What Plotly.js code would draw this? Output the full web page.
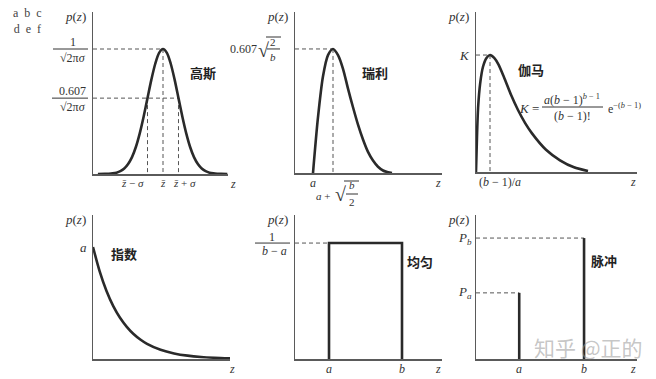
<!DOCTYPE html>
<html><head><meta charset="utf-8">
<script src="https://cdn.plot.ly/plotly-3.0.1.min.js"></script>
<style>html,body{margin:0;padding:0;background:#fff}#chart{width:656px;height:379px}</style>
</head><body><div id="chart"></div>
<script>
// ---------- data (normalised units) ----------
// (a) Gaussian: z in units of sigma about the mean, p relative to the peak
const gaussZ = [-4.2,-3.75,-3.5,-3.25,-3,-2.75,-2.5,-2.25,-2,-1.75,-1.5,-1.25,-1,-0.75,-0.5,-0.25,0,0.25,0.5,0.75,1,1.25,1.5,1.75,2,2.25,2.5,2.75,3,3.25,3.5,3.75,4.15];
const gaussP = [0,0.001,0.002,0.005,0.011,0.023,0.044,0.080,0.135,0.216,0.325,0.458,0.607,0.755,0.882,0.969,1,0.969,0.882,0.755,0.607,0.458,0.325,0.216,0.135,0.080,0.044,0.023,0.011,0.005,0.002,0.001,0];
const gaussMean = 0, gaussSigma = 1, gaussLevel = 0.607;
// (b) Rayleigh
const rayZ = [0.9,1.15,1.4,1.65,1.9,2.15,2.4,2.65,2.9,3.15,3.4,3.65,3.9,4.15,4.4,4.65,4.85];
const rayP = [0,0.45,0.78,0.95,1,0.95,0.84,0.68,0.53,0.39,0.27,0.17,0.10,0.05,0.02,0.006,0];
const rayA = 0.9, rayPeak = 1.9;
// (c) Gamma (Erlang)
const gamZ = [0,0.07,0.15,0.3,0.5,0.75,1,1.3,1.6,2,2.5,3,3.5,4,5,6,7,8];
const gamP = [0,0.3,0.55,0.76,0.9,0.975,1,0.975,0.92,0.81,0.66,0.53,0.42,0.33,0.19,0.10,0.04,0.008];
const gamPeak = 1;
// (d) Exponential
const expZ = [0,0.25,0.5,0.75,1,1.25,1.5,1.75,2,2.5,3,3.5,4,4.5,5.07];
const expP = [1,0.78,0.607,0.472,0.368,0.287,0.223,0.174,0.135,0.082,0.05,0.03,0.018,0.011,0.006];
// (e) Uniform
const uniA = 1, uniB = 3, uniH = 0.5;
// (f) Impulse (salt & pepper)
const impZ = [2, 5];          // a, b
const impP = [0.35, 0.64];    // Pa, Pb

// ---------- layout geometry ----------
const W = 656, H = 379;
const PX = x => x / W, PY = y => 1 - y / H;
const boxes = {'':[93,228,12,174],'2':[295,442,12,173],'3':[476,637,12,172],
               '4':[93,230,215,359],'5':[295,442,215,359],'6':[476,637,215,359]};
const ranges = {'':[[-4.516,4.194],[0,1.296]],'2':[[0,7.35],[0,1.298]],'3':[[0,11.5],[0,1.368]],
                '4':[[0,5.07],[0,1.286]],'5':[[0.068,4.096],[0,0.621]],'6':[[0,7.45],[0,0.762]]};
const keys = ['', '2', '3', '4', '5', '6'];
const xid = k => 'x' + k, yid = k => 'y' + k;

const SERIF = 'Liberation Serif, Times New Roman, serif';
const CJK = 'Noto Sans CJK SC, sans-serif';
const INK = '#2a2a2a', TXT = '#333';

const layout = {width: W, height: H, margin: {l:0, r:0, t:0, b:0},
  paper_bgcolor: '#fff', plot_bgcolor: '#fff', showlegend: false,
  annotations: [], shapes: []};

keys.forEach(k => {
  const b = boxes[k], r = ranges[k];
  const base = {showline:true, linecolor:'#5a5a5a', linewidth:1.5, showgrid:false,
    zeroline:false, showticklabels:false, ticks:'', fixedrange:true};
  layout['xaxis' + k] = Object.assign({}, base, {domain:[PX(b[0]), PX(b[1])], range:r[0], anchor:yid(k)});
  layout['yaxis' + k] = Object.assign({}, base, {domain:[PY(b[3]), PY(b[2])], range:r[1], anchor:xid(k)});
});

const traces = [];
function curve(k, x, y, shape) {
  traces.push({x, y, xaxis:xid(k), yaxis:yid(k), mode:'lines', hoverinfo:'skip',
    line:{color:INK, width:2.6, shape: shape || 'spline', smoothing:0.8}});
}
function dashed(k, x, y) {
  traces.push({x, y, xaxis:xid(k), yaxis:yid(k), mode:'lines', hoverinfo:'skip',
    line:{color:'#555', width:1, dash:'4px,3px'}});
}
const xmin = k => ranges[k][0][0];

// (a)
dashed('', [xmin(''), gaussMean, null, xmin(''), gaussMean + gaussSigma, null,
            gaussMean - gaussSigma, gaussMean - gaussSigma, null, gaussMean, gaussMean, null,
            gaussMean + gaussSigma, gaussMean + gaussSigma],
           [1, 1, null, gaussLevel, gaussLevel, null, gaussLevel, 0, null, 1, 0, null, gaussLevel, 0]);
curve('', gaussZ, gaussP);
// (b)
dashed('2', [xmin('2'), rayPeak, null, rayPeak, rayPeak], [1, 1, null, 1, 0]);
curve('2', rayZ, rayP);
// (c)
dashed('3', [xmin('3'), gamPeak, null, gamPeak, gamPeak], [1, 1, null, 1, 0]);
curve('3', gamZ, gamP);
// (d)
curve('4', expZ, expP);
// (e)
dashed('5', [xmin('5'), uniA], [uniH, uniH]);
curve('5', [uniA, uniA, uniB, uniB], [0, uniH, uniH, 0], 'linear');
// (f)
dashed('6', [xmin('6'), impZ[0], null, xmin('6'), impZ[1]], [impP[0], impP[0], null, impP[1], impP[1]]);
curve('6', [impZ[0], impZ[0], null, impZ[1], impZ[1]], [0, impP[0], null, 0, impP[1]], 'linear');

// ---------- text ----------
function ann(o) {
  layout.annotations.push(Object.assign({showarrow:false, font:{family:SERIF, size:12, color:TXT}}, o));
}
function xtick(k, x, text, anchor, shift, size) {
  ann({text, xref:xid(k), x, yref:yid(k) + ' domain', y:0, xanchor:anchor || 'center',
       yanchor:'top', xshift:shift || 0, yshift:-1, font:{family:SERIF, size:size || 12, color:TXT}});
}
function ytick(k, y, text, shift, size, yshift, anchor) {
  ann({text, xref:xid(k) + ' domain', x:0, yref:yid(k), y, xanchor:anchor || 'right', yanchor:'middle',
       xshift:shift || -4, yshift:yshift || 0, font:{family:SERIF, size:size || 12, color:TXT}});
}
function bar(k, y, pxL, pxR) {
  const b = boxes[k], w = b[1] - b[0];
  layout.shapes.push({type:'line', xref:xid(k) + ' domain', yref:yid(k),
    x0:(pxL - b[0]) / w, x1:(pxR - b[0]) / w, y0:y, y1:y, line:{color:TXT, width:1}});
}
function pline(x0, y0, x1, y1) {
  layout.shapes.push({type:'line', xref:'paper', yref:'paper', x0:PX(x0), x1:PX(x1), y0:PY(y0), y1:PY(y1),
    line:{color:TXT, width:1}});
}
function ptext(text, x, y, size, family, anchor, color) {
  ann({text, xref:'paper', yref:'paper', x:PX(x), y:PY(y), xanchor:anchor || 'center', yanchor:'middle',
       font:{family:family || SERIF, size:size || 12, color:color || TXT}});
}

// p(z) and z labels
const zShift = {'':5, '2':-4, '3':-4, '4':2, '5':-4, '6':-4};
keys.forEach(k => {
  ann({text:'<i>p</i>(<i>z</i>)', xref:xid(k) + ' domain', x:0, yref:yid(k) + ' domain', y:1,
       xanchor:'right', yanchor:'middle', xshift:-5, yshift:-4, font:{family:SERIF, size:13, color:TXT}});
  ann({text:'<i>z</i>', xref:xid(k) + ' domain', x:1, yref:yid(k) + ' domain', y:0,
       xanchor:'center', yanchor:'top', xshift:zShift[k], yshift:-1});
});

// (a) ticks
const zbar = '<i>z\u0304</i>';
xtick('', gaussMean - gaussSigma, zbar + ' \u2212 <i>\u03c3</i>', 'right', -2, 11);
xtick('', gaussMean, zbar, 'center', 0, 11);
xtick('', gaussMean + gaussSigma, zbar + ' + <i>\u03c3</i>', 'left', -7, 11);
ytick('', 1, '1', -20, 12, 7, 'center');
ytick('', 1, '\u221a2\u03c0<i>\u03c3</i>', -5, 12, -9);
ytick('', gaussLevel, '0.607', -20, 12, 7, 'center');
ytick('', gaussLevel, '\u221a2\u03c0<i>\u03c3</i>', -5, 12, -9);
bar('', 1, 53, 88);
bar('', gaussLevel, 52, 88);

// (b) ticks
xtick('2', rayA, '<i>a</i>');
ann({text:'<i>a</i> +', xref:'x2', x:rayPeak, yref:'y2 domain', y:0, xanchor:'center', yanchor:'middle', xshift:-10, yshift:-23, font:{family:SERIF, size:11, color:TXT}});
ann({text:'\u221a', xref:'x2', x:rayPeak, yref:'y2 domain', y:0, xanchor:'center', yanchor:'middle', xshift:7, yshift:-21, font:{family:SERIF, size:20, color:TXT}});
ann({text:'<i>b</i>', xref:'x2', x:rayPeak, yref:'y2 domain', y:0, xanchor:'center', yanchor:'middle', xshift:19, yshift:-12, font:{family:SERIF, size:11, color:TXT}});
ann({text:'2', xref:'x2', x:rayPeak, yref:'y2 domain', y:0, xanchor:'center', yanchor:'middle', xshift:19, yshift:-29, font:{family:SERIF, size:11, color:TXT}});
pline(346, 194, 358, 194);
pline(344, 181, 359, 181);
ytick('2', 1, '0.607', -36, 12);
ann({text:'\u221a', xref:'x2 domain', x:0, yref:'y2', y:1, xanchor:'center', yanchor:'middle', xshift:-32, yshift:-1, font:{family:SERIF, size:20, color:TXT}});
ann({text:'2', xref:'x2 domain', x:0, yref:'y2', y:1, xanchor:'center', yanchor:'middle', xshift:-22, yshift:7, font:{family:SERIF, size:11, color:TXT}});
ann({text:'<i>b</i>', xref:'x2 domain', x:0, yref:'y2', y:1, xanchor:'center', yanchor:'middle', xshift:-22, yshift:-8, font:{family:SERIF, size:11, color:TXT}});
bar('2', 1, 267, 280);
pline(266, 37, 281, 37);

// (c) ticks and formula
xtick('3', gamPeak, '(<i>b</i> \u2212 1)/<i>a</i>', 'center', 10);
ytick('3', 1, '<i>K</i>', -4, 13);
ptext('<i>K</i> =', 517, 109, 13, SERIF, 'left');
ptext('<i>a</i>(<i>b</i> \u2212 1)<sup><i>b</i> \u2212 1</sup>', 572, 100, 12);
ptext('(<i>b</i> \u2212 1)!', 572, 116, 12);
pline(542, 107, 603, 107);
ptext('e<sup>\u2212(<i>b</i> \u2212 1)</sup>', 606, 108, 12, SERIF, 'left');

// (d)
ytick('4', expP[0], '<i>a</i>', -4, 13);
// (e)
xtick('5', uniA, '<i>a</i>');
xtick('5', uniB, '<i>b</i>');
ytick('5', uniH, '1', -23, 12, 6, 'center');
ytick('5', uniH, '<i>b</i> \u2212 <i>a</i>', -6, 12, -8);
bar('5', uniH, 255, 290);
// (f)
xtick('6', impZ[0], '<i>a</i>');
xtick('6', impZ[1], '<i>b</i>');
ytick('6', impP[1], '<i>P</i><sub><i>b</i></sub>', -2, 13);
ytick('6', impP[0], '<i>P</i><sub><i>a</i></sub>', -2, 13);

// Chinese names
[['高斯',203,72],['瑞利',375,73],['伽马',531,70],['指数',124,253],['均匀',420,261],['脉冲',604,260]]
  .forEach(d => ptext('<b>' + d[0] + '</b>', d[1], d[2], 13, CJK, 'center', '#222'));

// panel letters (one block, two rows)
ptext('a\u00a0\u00a0b\u00a0\u00a0c<br>d\u00a0\u00a0e\u00a0\u00a0f', 27, 21, 12, SERIF, 'center', '#444');
// watermark
ptext('知乎 @正的', 588, 347, 21, CJK, 'center', 'rgba(150,150,150,0.55)');

Plotly.newPlot('chart', traces, layout, {staticPlot:true, displayModeBar:false});
</script>
</body></html>
